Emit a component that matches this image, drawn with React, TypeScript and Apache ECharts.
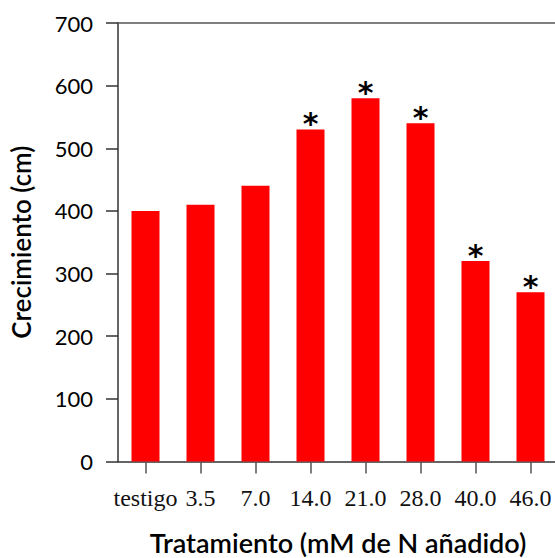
import React, { useEffect, useRef } from "react";
import * as echarts from "echarts";

// Growth by nitrogen treatment
const categories = ["testigo", "3.5", "7.0", "14.0", "21.0", "28.0", "40.0", "46.0"];
const growth = [400, 410, 440, 530, 580, 540, 320, 270];
const significant = [false, false, false, true, true, true, true, true];
const yTicks = [0, 700, 100]; // min, max, interval

const AXIS_COLOR = "#333";

export default function App() {
  const ref = useRef<HTMLDivElement>(null);

  useEffect(() => {
    if (!ref.current) return;
    const chart = echarts.init(ref.current, null, { renderer: "svg" });
    chart.setOption({
      animation: false,
      backgroundColor: "#fff",
      grid: {
        left: 118,
        top: 23,
        width: 440,
        bottom: 96.5,
        containLabel: false,
        outerBoundsMode: "none",
      },
      xAxis: [
        {
          type: "category",
          data: categories,
          boundaryGap: true,
          axisLine: { show: true, lineStyle: { color: AXIS_COLOR, width: 1.5 } },
          axisTick: { show: true, alignWithLabel: true, length: 12, lineStyle: { color: "#555", width: 1.5 } },
          axisLabel: {
            color: "#111",
            fontFamily: "Liberation Serif",
            fontSize: 24,
            margin: 24,
            interval: 0,
          },
          name: "Tratamiento (mM de N añadido)",
          nameLocation: "middle",
          nameGap: 67,
          nameTextStyle: {
            color: "#000",
            fontFamily: "Lato",
            fontWeight: 600,
            fontSize: 27,
          },
        },
        {
          type: "category",
          data: categories,
          position: "top",
          axisLine: { show: true, lineStyle: { color: "#555", width: 1.5 } },
          axisTick: { show: false },
          axisLabel: { show: false },
        },
      ],
      yAxis: {
        type: "value",
        min: yTicks[0],
        max: yTicks[1],
        interval: yTicks[2],
        splitLine: { show: false },
        axisLine: { show: true, lineStyle: { color: AXIS_COLOR, width: 1.5 } },
        axisTick: { show: true, length: 12, lineStyle: { color: AXIS_COLOR, width: 1.5 } },
        axisLabel: {
          color: "#000",
          fontFamily: "Lato",
          fontSize: 22,
          margin: 25,
        },
        name: "Crecimiento (cm)",
        nameLocation: "middle",
        nameGap: 84,
        nameTextStyle: {
          color: "#000",
          fontFamily: "Lato",
          fontWeight: 600,
          fontSize: 26,
        },
      },
      series: [
        {
          type: "bar",
          data: growth.map((v, i) => ({
            value: v,
            label: {
              show: significant[i],
              position: "top",
              distance: -9,
              formatter: "*",
              color: "#000",
              fontFamily: "DejaVu Sans",
              fontWeight: "bold",
              fontSize: 30,
            },
          })),
          barWidth: 28,
          itemStyle: { color: "#ff0000" },
        },
      ],
    });
    return () => chart.dispose();
  }, []);

  return (
    <div
      ref={ref}
      style={{ position: "absolute", left: 0, top: 0, width: 555, height: 558 }}
    />
  );
}
